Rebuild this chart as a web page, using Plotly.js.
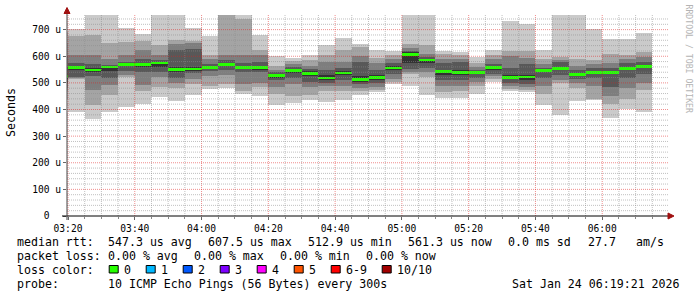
<!DOCTYPE html>
<html><head><meta charset="utf-8">
<script src="https://cdn.plot.ly/plotly-3.0.1.min.js"></script>
<style>html,body{margin:0;padding:0;background:#fff;}#chart{width:697px;height:297px;}</style>
</head><body><div id="chart"></div>
<script>
// period start of each 5-minute RRD step (Jan 24 2026)
const periodStart = ['03:15','03:20','03:25','03:30','03:35','03:40','03:45','03:50','03:55',
  '04:00','04:05','04:10','04:15','04:20','04:25','04:30','04:35','04:40','04:45','04:50','04:55',
  '05:00','05:05','05:10','05:15','05:20','05:25','05:30','05:35','05:40','05:45','05:50','05:55',
  '06:00','06:05','06:10'];
// sorted ping round-trip times, microseconds (ping1 = fastest ... ping10 = slowest)
const ping1  = [440,392,366,391,410,419,448,432,453,478,479,459,450,416,426,434,429,435,453,467,497,489,453,442,445,460,505,469,466,416,379,432,435,367,401,391];
const ping2  = [470,516,416,456,524,469,485,481,496,490,497,471,485,460,450,453,470,469,470,474,502,535,522,466,470,488,515,476,474,460,498,481,441,422,441,472];
const ping3  = [480,520,473,491,530,491,523,500,515,525,531,496,500,485,495,485,487,490,480,485,515,540,540,490,490,505,525,488,485,490,510,500,490,450,480,500];
const ping4  = [500,523,525,520,545,541,540,518,538,545,548,540,540,510,518,505,500,510,495,500,535,554,555,510,510,520,535,500,495,520,530,515,520,485,520,535];
const ping5  = [515,550,540,545,562,560,560,540,545,555,565,552,550,520,538,527,510,528,505,512,550,573,575,530,530,533,550,513,512,540,548,525,535,535,548,555];
const ping6  = [530,565,555,565,573,573,578,560,560,563,575,565,565,533,553,543,530,545,525,530,562,615,590,550,548,545,565,528,530,550,560,537,545,545,558,568];
const ping7  = [560,575,570,568,579,591,585,622,627,570,585,575,580,540,560,552,548,555,578,550,573,620,598,573,580,550,572,555,571,556,578,550,555,555,573,580];
const ping8  = [600,604,604,591,604,623,604,645,648,590,604,603,604,550,570,565,580,580,600,575,590,630,610,590,590,560,590,600,595,570,585,565,570,575,590,598];
const ping9  = [650,675,679,648,654,656,641,662,659,605,770,740,622,562,581,586,604,622,634,592,604,645,644,607,605,574,604,619,619,591,598,590,585,607,604,616];
const ping10 = [690,704,780,780,707,685,780,780,708,678,780,780,681,601,594,603,644,669,647,625,620,780,780,620,615,597,624,733,723,625,780,780,701,663,666,688];
const medianRtt = [524,559,548,560,570,569,575,550,552,559,570,559,557,528,547,536,519,537,513,521,556,607.5,586,543,539,540,559,521,522,546,554,531,540,540,553,561];

const yTickValues = [0,100,200,300,400,500,600,700];
const yTickLabels = ['0\u00a0\u00a0','100 u','200 u','300 u','400 u','500 u','600 u','700 u'];
const smokeShades = ['#cacaca','#a4a4a4','#7e7e7e','#585858','#323232'];
const lossLabels = ['0','1','2','3','4','5','6-9','10/10'];
const lossColors = ['#26ff00','#00b8ff','#0059ff','#7e00ff','#ff00ff','#ff5500','#ff0000','#a10000'];

const STEP = 300000;
const DAY = '2026-01-24 ';
const xs = periodStart.map(t => DAY + t + ':00');
const pings = [ping1,ping2,ping3,ping4,ping5,ping6,ping7,ping8,ping9,ping10];
const traces = [];
for (let i = 0; i < 5; i++) {
  const lo = pings[i], hi = pings[9 - i];
  traces.push({type:'bar', x: xs, base: lo, y: hi.map((v, j) => v - lo[j]),
    width: STEP, offset: 0, marker:{color: smokeShades[i], line:{width:0}},
    hoverinfo:'skip', showlegend:false});
}
const MEDH = 10;
traces.push({type:'bar', x: xs, base: medianRtt.map(v => v - MEDH/2), y: medianRtt.map(() => MEDH),
  width: STEP, offset: 0, marker:{color: lossColors[0], line:{width:0}}, hoverinfo:'skip', showlegend:false});

// pixel -> paper helpers for decorations outside the plot
const L = 67, T = 15, W = 601, H = 201;
const px = x => (x - L) / W;
const py = y => (T + H - y) / H;
const nb = s => s.replace(/ /g, '\u00a0');
const MONO = 'DejaVu Sans Mono';

const annotations = [];
function txt(x, y, s, opts) {
  annotations.push(Object.assign({xref:'paper', yref:'paper', x: px(x), y: py(y), text: nb(s),
    showarrow:false, xanchor:'left', yanchor:'middle', borderpad:0,
    font:{family: MONO, size: 11.6, color:'#000'}}, opts || {}));
}
txt(16, 241.5, 'median rtt:');
txt(107, 241.5, '547.3 us avg');
txt(207, 241.5, '607.5 us max');
txt(306.5, 241.5, '512.9 us min');
txt(406.5, 241.5, '561.3 us now');
txt(506.5, 241.5, '0.0 ms sd');
txt(586.5, 241.5, '27.7');
txt(635, 241.5, 'am/s');
txt(16, 255.5, 'packet loss:');
txt(107, 255.5, '0.00 % avg');
txt(193, 255.5, '0.00 % max');
txt(279, 255.5, '0.00 % min');
txt(365, 255.5, '0.00 % now');
txt(16, 269.5, 'loss color:');
txt(16, 283.5, 'probe:');
txt(107, 283.5, '10 ICMP Echo Pings (56 Bytes) every 300s');
txt(681, 283.5, 'Sat Jan 24 06:19:21 2026', {xanchor:'right'});
txt(11, 113, 'Seconds', {xanchor:'center', textangle:-90});
txt(688.5, 59, 'RRDTOOL / TOBI OETIKER', {xanchor:'center', textangle:90, font:{family: MONO, size: 8.2, color:'#b4b4b4'}});

const shapes = [];
// RRD-style dotted grid drawn above the smoke
const GRID_MINOR = 'rgba(140,140,140,0.55)';
const GRID_MAJOR = 'rgba(225,30,30,0.5)';
const pad2 = n => String(n).padStart(2, '0');
for (let m = 200; m <= 375; m += 5) {
  const t = DAY + pad2(Math.floor(m / 60)) + ':' + pad2(m % 60) + ':00';
  shapes.push({type:'line', layer:'above', xref:'x', yref:'paper', x0: t, x1: t, y0: 0, y1: 1,
    line:{color: m % 20 === 0 ? GRID_MAJOR : GRID_MINOR, width: 1, dash:'1px,1px'}});
}
for (let v = 20; v <= 740; v += 20) {
  shapes.push({type:'line', layer:'above', xref:'paper', yref:'y', x0: 0, x1: 1, y0: v, y1: v,
    line:{color: v % 100 === 0 ? GRID_MAJOR : GRID_MINOR, width: 1, dash:'1px,1px'}});
}
let lx = 108.7;
lossLabels.forEach((lab, k) => {
  shapes.push({type:'rect', xref:'paper', yref:'paper', x0: px(lx + 0.5), x1: px(lx + 9.5), y0: py(273), y1: py(265.5),
    fillcolor: lossColors[k], line:{color:'#000', width:1}});
  txt(lx + 14, 269.5, lab);
  lx += 14 + lab.length * 7 + 16;
});
// axis lines and arrows
shapes.push({type:'line', xref:'paper', yref:'paper', x0: px(62), x1: px(669), y0: py(216), y1: py(216), line:{color:'#000', width:1}});
shapes.push({type:'line', xref:'paper', yref:'paper', x0: px(67), x1: px(67), y0: py(220), y1: py(12), line:{color:'#444', width:1}});
shapes.push({type:'path', xref:'paper', yref:'paper', fillcolor:'#a01010', line:{color:'#a01010', width:1},
  path: 'M'+px(64)+','+py(13.5)+' L'+px(67)+','+py(7.5)+' L'+px(70)+','+py(13.5)+' Z'});
shapes.push({type:'path', xref:'paper', yref:'paper', fillcolor:'#a01010', line:{color:'#a01010', width:1},
  path: 'M'+px(668)+','+py(213)+' L'+px(674)+','+py(216)+' L'+px(668)+','+py(219)+' Z'});

const layout = {
  width: 697, height: 297, margin:{l: L, r: 697 - L - W, t: T, b: 297 - T - H, pad: 0},
  paper_bgcolor:'#ffffff', plot_bgcolor:'#ffffff', barmode:'overlay', bargap: 0,
  font:{family: MONO, size: 9.6, color:'#000'},
  xaxis:{type:'date', range:['2026-01-24 03:19:42','2026-01-24 06:19:42'], tick0:'2026-01-24 00:00:00', dtick: 1200000,
    tickformat:'%H:%M', showgrid:false,
    ticks:'outside', ticklen:3, tickcolor:'#666', showline:false, zeroline:false, fixedrange:true,
    tickfont:{family: MONO, size: 9.6, color:'#000'},
    minor:{dtick: STEP, showgrid:false, ticks:'outside', ticklen:2, tickcolor:'#888'}},
  yaxis:{range:[0, 755], tickmode:'array', tickvals: yTickValues, ticktext: yTickLabels,
    showgrid:false, ticks:'outside', ticklen:3, tickcolor:'#666', showline:false, zeroline:false, fixedrange:true,
    tickfont:{family: MONO, size: 9.6, color:'#000'}},
  shapes: shapes, annotations: annotations
};
Plotly.newPlot('chart', traces, layout, {displayModeBar:false, staticPlot:true});
</script></body></html>
